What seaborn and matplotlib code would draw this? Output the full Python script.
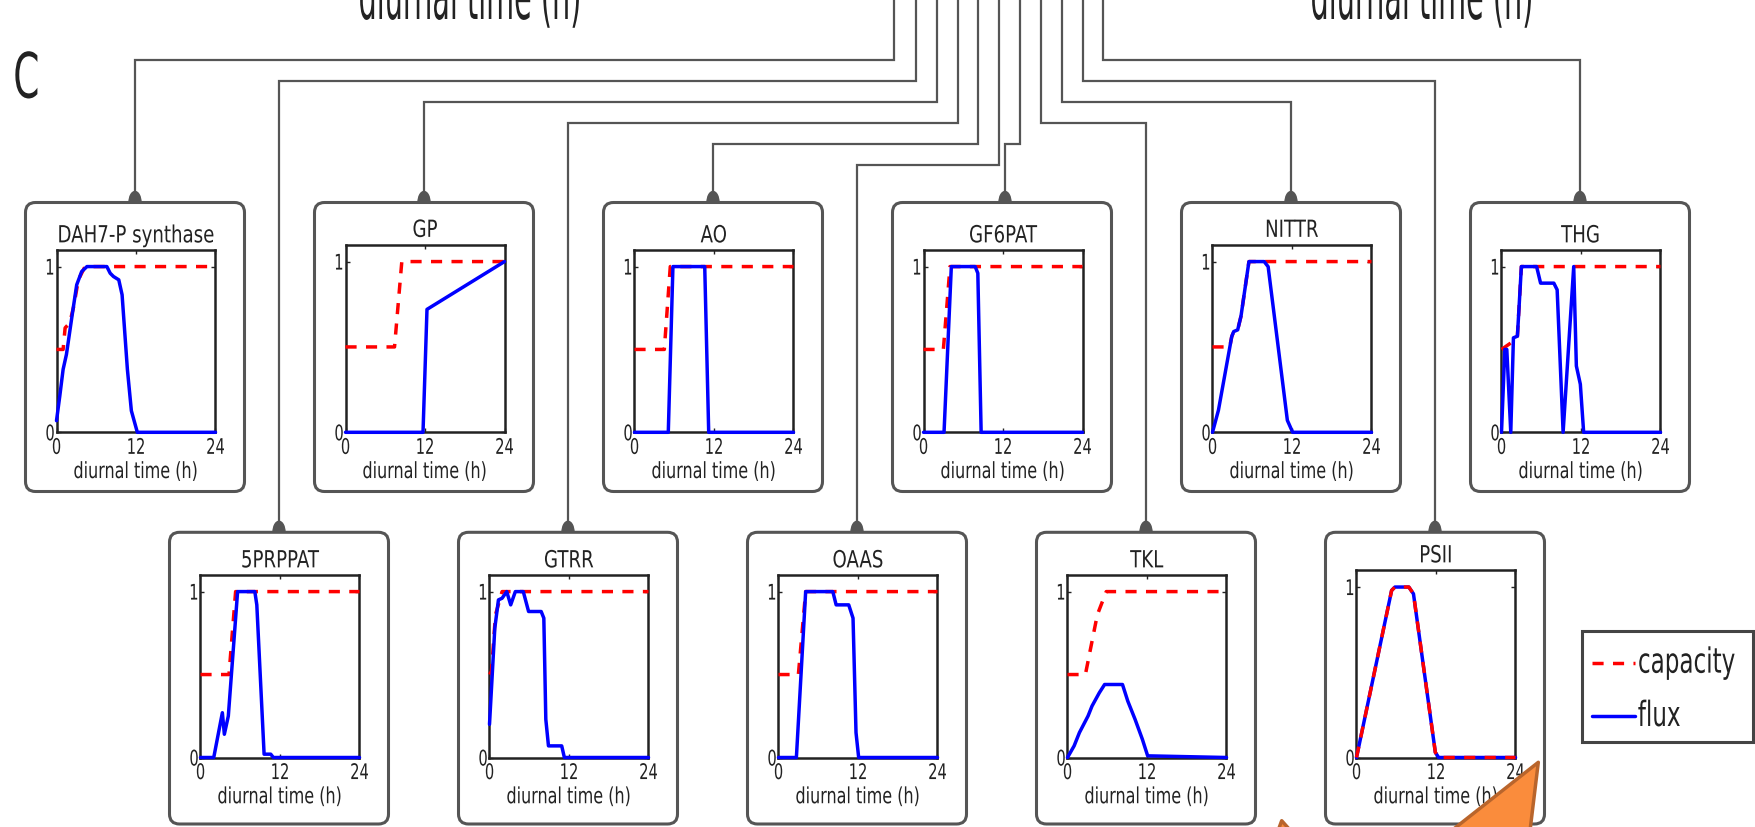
import matplotlib
matplotlib.use("Agg")
import matplotlib.pyplot as plt
import seaborn as sns
from matplotlib import font_manager
from matplotlib.patches import FancyBboxPatch, Polygon, Rectangle, Ellipse
from matplotlib.patheffects import AbstractPathEffect
from matplotlib.transforms import Affine2D

# ---------------- data ----------------
TOP_ROW = ["DAH7-P synthase", "GP", "AO", "GF6PAT", "NITTR", "THG"]
BOTTOM_ROW = ["5PRPPAT", "GTRR", "OAAS", "TKL", "PSII"]
XTICKS = [0, 12, 24]
XTICKLABELS = ["0", "12", "24"]
YTICKS = [0, 1]
YTICKLABELS = ["0", "1"]
XLABEL = "diurnal time (h)"
LEGEND_LABELS = ["capacity", "flux"]

DAH7P_CAP_T = [0, 1.0, 1.3, 2.0, 2.6, 3.3, 4.3, 24]
DAH7P_CAP = [0.5, 0.5, 0.63, 0.66, 0.76, 0.92, 1.0, 1.0]
DAH7P_FLUX_T = [0, 0.5, 1.0, 1.5, 2.3, 3.05, 3.8, 4.6, 7.6, 8.1, 8.6, 9.4, 9.9, 10.7, 11.3, 12.2, 24]
DAH7P_FLUX = [0.07, 0.22, 0.38, 0.47, 0.69, 0.89, 0.97, 1.0, 1.0, 0.96, 0.94, 0.92, 0.83, 0.38, 0.13, 0.0, 0.0]

GP_CAP_T = [0, 7.4, 8.5, 24]
GP_CAP = [0.5, 0.5, 1.0, 1.0]
GP_FLUX_T = [0, 11.7, 12.3, 24]
GP_FLUX = [0, 0, 0.72, 1.0]

AO_CAP_T = [0, 4.5, 5.4, 24]
AO_CAP = [0.5, 0.5, 1.0, 1.0]
AO_FLUX_T = [0, 5.1, 5.8, 10.6, 11.2, 24]
AO_FLUX = [0, 0, 1.0, 1.0, 0, 0]

GF6PAT_CAP_T = [0, 3.0, 4.0, 24]
GF6PAT_CAP = [0.5, 0.5, 1.0, 1.0]
GF6PAT_FLUX_T = [0, 3.1, 4.2, 7.8, 8.2, 8.7, 24]
GF6PAT_FLUX = [0, 0, 1.0, 1.0, 0.96, 0, 0]

NITTR_CAP_T = [0, 2.6, 2.9, 3.2, 3.8, 4.3, 5.5, 24]
NITTR_CAP = [0.5, 0.5, 0.56, 0.59, 0.6, 0.68, 1.0, 1.0]
NITTR_FLUX_T = [0, 0.9, 2.9, 3.2, 3.8, 4.3, 5.5, 7.8, 8.4, 11.3, 12.1, 24]
NITTR_FLUX = [0, 0.13, 0.56, 0.59, 0.6, 0.68, 1.0, 1.0, 0.97, 0.07, 0, 0]

THG_CAP_T = [0, 1.8, 2.4, 3.0, 24]
THG_CAP = [0.5, 0.55, 0.58, 1.0, 1.0]
THG_FLUX_T = [0, 0.5, 0.8, 1.4, 1.8, 2.4, 3.0, 5.3, 5.9, 7.9, 8.4, 9.3, 10.9, 11.3, 11.9, 12.4, 24]
THG_FLUX = [0, 0.5, 0.5, 0, 0.57, 0.58, 1.0, 1.0, 0.9, 0.9, 0.86, 0, 1.0, 0.4, 0.29, 0, 0]

P5PRPPAT_CAP_T = [0, 4.3, 5.3, 24]
P5PRPPAT_CAP = [0.5, 0.5, 1.0, 1.0]
P5PRPPAT_FLUX_T = [0, 2.0, 3.3, 3.6, 4.2, 5.6, 8.2, 8.5, 9.6, 10.6, 11.0, 24]
P5PRPPAT_FLUX = [0, 0, 0.27, 0.14, 0.25, 1.0, 1.0, 0.92, 0.02, 0.02, 0, 0]

GTRR_CAP_T = [0, 0.3, 0.9, 1.9, 24]
GTRR_CAP = [0.5, 0.52, 0.86, 1.0, 1.0]
GTRR_FLUX_T = [0, 0.8, 1.35, 1.9, 2.6, 3.2, 3.9, 5.1, 5.9, 7.8, 8.2, 8.5, 8.9, 10.9, 11.3, 24]
GTRR_FLUX = [0.2, 0.78, 0.95, 0.96, 1.0, 0.92, 1.0, 1.0, 0.88, 0.88, 0.84, 0.23, 0.07, 0.07, 0, 0]

OAAS_CAP_T = [0, 3.0, 4.1, 24]
OAAS_CAP = [0.5, 0.5, 1.0, 1.0]
OAAS_FLUX_T = [0, 2.7, 4.1, 8.2, 8.7, 10.6, 11.25, 11.7, 12.1, 24]
OAAS_FLUX = [0, 0, 1.0, 1.0, 0.92, 0.92, 0.84, 0.15, 0, 0]

TKL_CAP_T = [0, 2.7, 3.4, 4.5, 5.85, 24]
TKL_CAP = [0.5, 0.5, 0.64, 0.86, 1.0, 1.0]
TKL_FLUX_T = [0, 1.0, 1.8, 3.1, 3.7, 4.8, 5.6, 8.3, 9.1, 10.2, 11.3, 12.1, 24]
TKL_FLUX = [0, 0.07, 0.15, 0.25, 0.31, 0.39, 0.44, 0.44, 0.34, 0.23, 0.11, 0.01, 0]

PSII_CAP_T = [0, 5.3, 5.8, 7.9, 8.6, 11.9, 12.4, 24]
PSII_CAP = [0, 0.98, 1.0, 1.0, 0.96, 0.03, 0, 0]
PSII_FLUX_T = [0, 5.3, 5.8, 7.9, 8.6, 11.9, 12.4, 24]
PSII_FLUX = [0, 0.98, 1.0, 1.0, 0.96, 0.03, 0, 0]

SERIES = {
    "DAH7-P synthase": (DAH7P_CAP_T, DAH7P_CAP, DAH7P_FLUX_T, DAH7P_FLUX),
    "GP": (GP_CAP_T, GP_CAP, GP_FLUX_T, GP_FLUX),
    "AO": (AO_CAP_T, AO_CAP, AO_FLUX_T, AO_FLUX),
    "GF6PAT": (GF6PAT_CAP_T, GF6PAT_CAP, GF6PAT_FLUX_T, GF6PAT_FLUX),
    "NITTR": (NITTR_CAP_T, NITTR_CAP, NITTR_FLUX_T, NITTR_FLUX),
    "THG": (THG_CAP_T, THG_CAP, THG_FLUX_T, THG_FLUX),
    "5PRPPAT": (P5PRPPAT_CAP_T, P5PRPPAT_CAP, P5PRPPAT_FLUX_T, P5PRPPAT_FLUX),
    "GTRR": (GTRR_CAP_T, GTRR_CAP, GTRR_FLUX_T, GTRR_FLUX),
    "OAAS": (OAAS_CAP_T, OAAS_CAP, OAAS_FLUX_T, OAAS_FLUX),
    "TKL": (TKL_CAP_T, TKL_CAP, TKL_FLUX_T, TKL_FLUX),
    "PSII": (PSII_CAP_T, PSII_CAP, PSII_FLUX_T, PSII_FLUX),
}
CAP_ON_TOP = {"PSII"}


# ---------------- helpers ----------------
class HSquash(AbstractPathEffect):
    """Draw text condensed horizontally / stretched vertically (stays a real Text)."""

    def __init__(self, sx, anchor=0.5, sy=1.0):
        super().__init__()
        self._sx = sx
        self._sy = sy
        self._anchor = anchor

    def draw_path(self, renderer, gc, tpath, affine, rgbFace=None):
        ext = tpath.get_extents()
        a = ext.x0 + self._anchor * ext.width
        tr = Affine2D().translate(-a, 0).scale(self._sx, self._sy).translate(a, 0) + affine
        renderer.draw_path(gc, tpath, tr, rgbFace)


W, H = 1756, 828
sns.set_style("ticks")
plt.rcParams["font.family"] = ["DejaVu Sans"]
TXT = "#222222"
GREY = "#555555"
LW = 2.5

fig = plt.figure(figsize=(W / 100, H / 100), dpi=100)
bg = fig.add_axes([0, 0, 1, 1], zorder=0)
bg.set_xlim(0, W)
bg.set_ylim(H, 0)
bg.axis("off")
over = fig.add_axes([0, 0, 1, 1], zorder=10)
over.set_xlim(0, W)
over.set_ylim(H, 0)
over.axis("off")
over.patch.set_alpha(0)

TOP_CX = [135 + 289 * k for k in range(6)]
BOT_CX = [279 + 289 * k for k in range(5)]
TOP_BOX = (203.5, 492.5)
BOT_BOX = (533.3, 825.0)

centers = {}
for n, cx in zip(TOP_ROW, TOP_CX):
    centers[n] = (cx, "top")
for n, cx in zip(BOTTOM_ROW, BOT_CX):
    centers[n] = (cx, "bot")

# connectors: (vertical x, horizontal y, target, target x)
CONN = [
    (894.0, 60.7, "DAH7-P synthase", None),
    (915.7, 81.7, "5PRPPAT", None),
    (936.7, 102.7, "GP", None),
    (957.7, 124.0, "GTRR", None),
    (978.3, 145.0, "AO", None),
    (999.0, 165.7, "OAAS", None),
    (1020.0, 145.0, "GF6PAT", 1005.0),
    (1040.7, 124.0, "TKL", None),
    (1061.7, 102.7, "NITTR", None),
    (1082.7, 81.7, "PSII", None),
    (1103.3, 60.7, "THG", None),
]
for vx, hy, name, tx in CONN:
    cx, row = centers[name]
    if tx is None:
        tx = cx
    ytop = TOP_BOX[0] if row == "top" else BOT_BOX[0]
    bg.plot([vx, vx, tx, tx], [-10, hy, hy, ytop], color=GREY, lw=1.6,
            solid_joinstyle="miter", zorder=1)
    bg.add_patch(Ellipse((tx, ytop), 12, 22, color=GREY, zorder=1.5))

# boxes
for name, (cx, row) in centers.items():
    y0, y1 = TOP_BOX if row == "top" else BOT_BOX
    bg.add_patch(FancyBboxPatch((cx - 109.5, y0), 219, y1 - y0,
                                boxstyle="round,pad=0,rounding_size=10",
                                fc="white", ec=GREY, lw=2.2, zorder=2))

# panels
handles = None
for name, (cx, row) in centers.items():
    if row == "top":
        top = 245.5 if name in ("GP", "NITTR") else 251.0
        bot = 433.3
    else:
        top = 571.0 if name == "PSII" else 576.0
        bot = 758.5
    left = cx - 78.5
    ax = fig.add_axes([left / W, 1 - bot / H, 159 / W, (bot - top) / H], zorder=3)
    cap_t, cap, fl_t, fl = SERIES[name]

    def draw_cap():
        sns.lineplot(x=cap_t, y=cap, ax=ax, estimator=None, sort=False, legend=False,
                     color="red", linewidth=LW, linestyle=(0, (3.2, 2.7)),
                     clip_on=False, zorder=3)
        return ax.lines[-1]

    def draw_flux():
        sns.lineplot(x=fl_t, y=fl, ax=ax, estimator=None, sort=False, legend=False,
                     color="blue", linewidth=LW, clip_on=False, zorder=3)
        return ax.lines[-1]

    if name in CAP_ON_TOP:
        lf = draw_flux()
        lc = draw_cap()
    else:
        lc = draw_cap()
        lf = draw_flux()
    if handles is None:
        handles = [lc, lf]

    ax.set_xlim(0, 24)
    ax.set_ylim(0, 1.1)
    ax.set_xticks(XTICKS)
    ax.set_xticklabels(XTICKLABELS)
    ax.set_yticks(YTICKS)
    ax.set_yticklabels(YTICKLABELS)
    ax.tick_params(direction="in", length=3, width=1, color=TXT, labelcolor=TXT,
                   labelsize=15.5, top=True, right=True, bottom=True, left=True)
    ax.tick_params(axis="x", pad=4.0)
    ax.tick_params(axis="y", pad=1)
    for sp in ax.spines.values():
        sp.set_linewidth(1.8)
        sp.set_color(TXT)
        sp.set_visible(True)
    ax.set_xlabel(XLABEL, fontsize=16, labelpad=3, color=TXT)
    ax.xaxis.label.set_path_effects([HSquash(0.72)])
    ax.set_ylabel("")
    t = ax.set_title(name, fontsize=17, pad=5.5, color=TXT)
    t.set_path_effects([HSquash(0.77)])
    for lab in ax.get_xticklabels():
        lab.set_path_effects([HSquash(0.68)])
    for lab in ax.get_yticklabels():
        lab.set_path_effects([HSquash(0.68, 1.0)])

# legend
leg_fs, leg_sx, leg_sy = 20, 0.83, 1.25
em = leg_fs * 100 / 72.0
text_h = em * 0.96
leg = fig.legend(handles, LEGEND_LABELS, loc="upper left",
                 bbox_to_anchor=(1591.7 / W, 1 - (665 - text_h / 2) / H), frameon=False,
                 prop={"family": "DejaVu Sans", "size": leg_fs},
                 handlelength=43 / em, handletextpad=3 / em,
                 labelspacing=(52 - text_h) / em, borderpad=0, borderaxespad=0)
for tx in leg.get_texts():
    tx.set_color(TXT)
    tx.set_path_effects([HSquash(leg_sx, 0.0, leg_sy)])
bg.add_patch(Rectangle((1581.7, 632.3), 171.6, 111, fill=False, ec="#444444",
                       lw=2.2, zorder=2))

# cut-off labels of the panel above and panel letter
for x in (470, 1422):
    bg.text(x, 20, XLABEL, ha="center", va="baseline", fontsize=48, color=TXT,
            path_effects=[HSquash(0.43)])
bg.text(26.3, 98.6, "C", ha="center", va="baseline", fontsize=45, color=TXT,
        path_effects=[HSquash(0.6)])

# orange pointer overlay
over.add_patch(Polygon([(1538.3, 763.3), (1529.0, 840), (1441.0, 840)], closed=True,
                       fc="#FA8C3C", ec="#B9652C", lw=2.5, joinstyle="round", zorder=5))
over.add_patch(Polygon([(1281.7, 821.7), (1298.0, 840), (1275.0, 840)], closed=True,
                       fc="#FA8C3C", ec="#B9652C", lw=2.5, joinstyle="round", zorder=5))

fig.savefig("out.png", dpi=100)
